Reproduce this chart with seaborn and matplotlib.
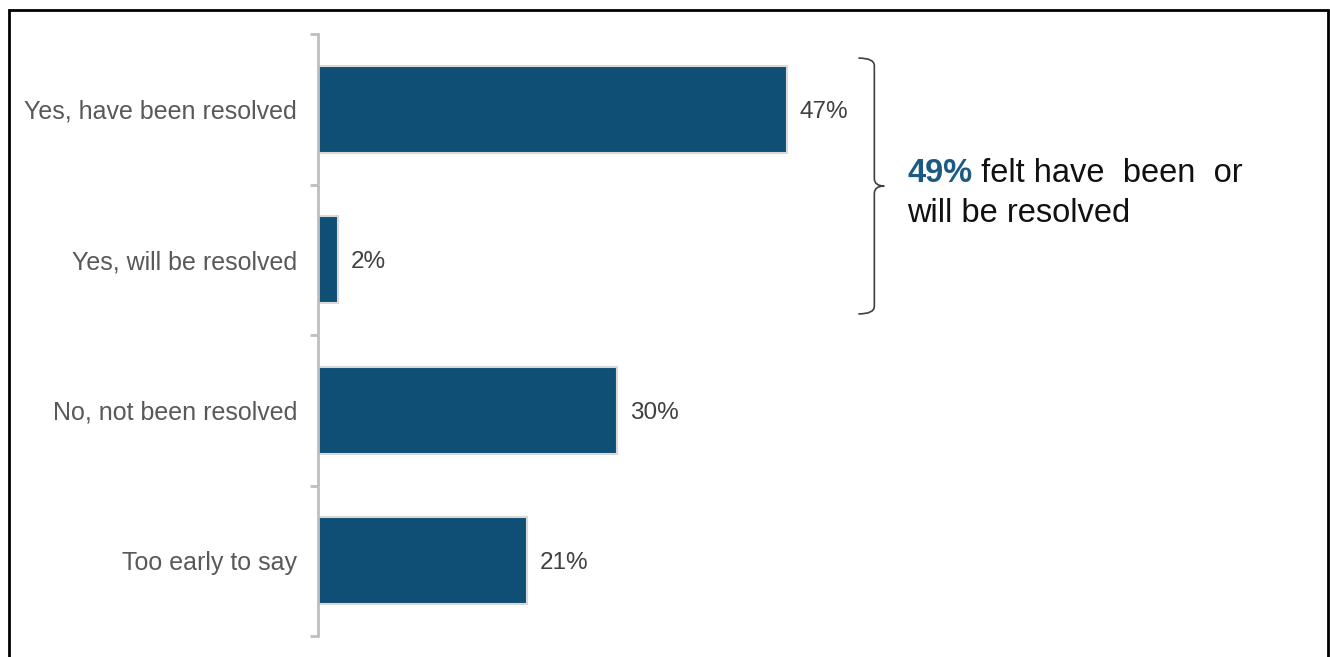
import matplotlib
matplotlib.use("Agg")
import matplotlib.pyplot as plt
from matplotlib.path import Path
from matplotlib.patches import PathPatch, Rectangle
import seaborn as sns
import pandas as pd

categories = ["Yes, have been resolved", "Yes, will be resolved", "No, not been resolved", "Too early to say"]
values = [47, 2, 30, 21]
value_labels = ["47%", "2%", "30%", "21%"]
callout_value = "49%"
callout_text_1 = " felt have  been  or"
callout_text_2 = "will be resolved"

sns.set_theme(style="white")
plt.rcParams["font.family"] = ["Liberation Sans", "DejaVu Sans"]

BAR = "#104F75"
GREY_TXT = "#595959"
AXIS = "#BFBFBF"

df = pd.DataFrame({"category": categories, "value": values})

fig = plt.figure(figsize=(13.3, 6.57), dpi=100)
ax = fig.add_axes([318/1330, (657-636)/657, 1000/1330, 602/657])

sns.barplot(data=df, x="value", y="category", orient="h", color=BAR,
            width=0.58, edgecolor="#D9D9D9", linewidth=1.5, saturation=1, ax=ax)

ax.set_xlim(0, 100.3)
ax.set_ylim(3.5, -0.5)
ax.set_xlabel("")
ax.set_ylabel("")
ax.set_xticks([])
for s in ["top", "right", "bottom"]:
    ax.spines[s].set_visible(False)
ax.spines["left"].set_color(AXIS)
ax.spines["left"].set_linewidth(2)

ax.set_yticks(range(len(categories)))
ax.set_yticklabels(categories, fontsize=18, color=GREY_TXT)
ax.tick_params(axis="y", which="major", length=0, pad=15)
ax.set_yticks([-0.5, 0.5, 1.5, 2.5, 3.5], minor=True)
ax.tick_params(axis="y", which="minor", length=6, width=2, color=AXIS, left=True)

for i, (v, lab) in enumerate(zip(values, value_labels)):
    ax.annotate(lab, xy=(v, i), xytext=(9, 0), textcoords="offset points",
                ha="left", va="center_baseline", fontsize=17.5, color="#404040")

# curly brace spanning the first two categories
bx, tip, hook = 55.8, 1.0, 1.6
y0, y1 = -0.34, 1.36
ym = (y0 + y1) / 2
verts = [
    (bx - hook, y0), (bx, y0), (bx, y0 + 0.05),
    (bx, ym - 0.05),
    (bx, ym), (bx + tip, ym),
    (bx, ym), (bx, ym + 0.05),
    (bx, y1 - 0.05),
    (bx, y1), (bx - hook, y1),
]
codes = [Path.MOVETO, Path.CURVE3, Path.CURVE3, Path.LINETO,
         Path.CURVE3, Path.CURVE3, Path.CURVE3, Path.CURVE3,
         Path.LINETO, Path.CURVE3, Path.CURVE3]
ax.add_patch(PathPatch(Path(verts, codes), fill=False, edgecolor="#404040",
                       linewidth=1.2, clip_on=False))

t1 = fig.text(907/1330, 1 - 173/657, callout_value, fontsize=23.5, fontweight="bold",
              color="#1B5A82", ha="left", va="center")
fig.canvas.draw()
bb = t1.get_window_extent()
fig.text(bb.x1/1330, 1 - 173/657, callout_text_1, fontsize=23.5, color="#111111",
         ha="left", va="center")
fig.text(907/1330, 1 - 213/657, callout_text_2, fontsize=23.5, color="#111111",
         ha="left", va="center")

fig.patches.append(Rectangle((9/1330, -0.05), (1328-9)/1330, 1.05 - 10/657,
                             transform=fig.transFigure, fill=False,
                             edgecolor="black", linewidth=2))

fig.savefig("out.png", dpi=100)
